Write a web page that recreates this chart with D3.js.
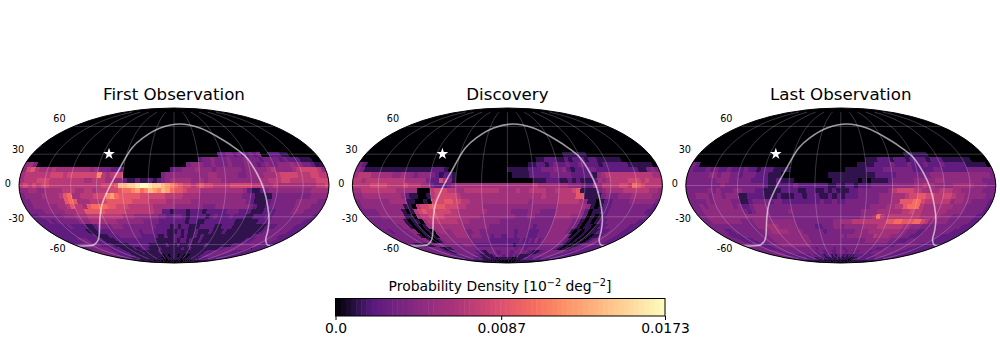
<!DOCTYPE html>
<html>
<head>
<meta charset="utf-8">
<script src="https://cdnjs.cloudflare.com/ajax/libs/d3/7.8.5/d3.min.js"></script>
<style>
html, body { margin: 0; padding: 0; background: #fff; }
svg { display: block; }
text { font-family: "DejaVu Sans", sans-serif; fill: #000; }
</style>
</head>
<body>
<div id="root"></div>
<script>
// density per cell: hex level 0-f of the colour bar, one
// string per latitude row, six groups of 12 cells (60 deg of longitude each)
var rowLats = [30, 25, 20, 15, 10, 5, 0, -5, -10, -15, -20, -25, -30, -35, -40, -45, -50, -55, -60, -65, -70, -75, -80, -85];

var firstObs = [
"000000000000 000000000000 000000000000 000000000002 233232232300 222110000000",
"000000000000 000000000000 000000000000 000000233433 343334333233 332322211100",
"453000000000 000000000000 000000000000 000344433433 343334432343 344454433211",
"478655565555 555545333222 000000000002 334445444344 444434444456 444456777764",
"566666677767 777777a65677 000000000344 444444445544 444334444555 677776667766",
"566677766666 666556665544 211211212345 555544545554 444444445566 677666666777",
"676767766666 66666667778c cddeffeddcba 987767877666 677777666556 555555555667",
"445544555566 655665666778 99ab9acbacb9 887666555555 555542112344 444444445555",
"344445555689 55666777ab98 888877777766 665555444444 444433211113 333333334444",
"334444555589 855566678888 887777666655 555544444444 444443211123 333334444433",
"334444445568 665899998877 766666655555 444444433344 444444321123 333334444333",
"333344444555 668888877777 666666655221 222122212222 233322211122 233334443333",
"223333334445 556666666665 554444443322 332122221232 223222112223 233333333332",
"222323333334 445555555444 444433332222 222122112222 222211111122 233333333322",
"222222232222 112333344433 333333322221 212211122221 122211111111 122233333222",
"222222222221 112222333333 332333222211 121211211121 112111111111 123333333222",
"222222222222 111122233333 332222211211 221211212111 111111111111 233333332222",
"222223332222 211112222222 222222111111 212212112111 111111111112 223333333222",
"222333333222 221111112222 222111111211 121112111112 111111111223 333333322222",
"223333333322 222111112112 221111211111 111211211111 111111223333 333332222222",
"333333333222 222111111211 111112111111 111111111111 112222333333 332222222222",
"333333222222 221111111111 111111011011 110110101111 112223333333 222222222222",
"222222221111 111111111111 111101011111 111110101111 111212222222 222222222222",
"111111111111 111100101010 010100100101 010010100101 010101111111 111111111111"
];

var discovery = [
"000000000000 000000000000 000000000000 000000000000 001111110000 000000000000",
"000000000000 000000000000 000000000000 000000011222 112122212211 111100000000",
"320000000000 000000000000 000000000000 000001122123 223223322212 222221111110",
"431111111111 111111222100 000000000000 111112223334 342122233222 222222211343",
"566655555445 443444321221 000000000000 011112222233 333222221456 666666666655",
"665666666666 555553227531 000000000000 000000111222 112121112545 666677767666",
"666677776666 766655322234 555555555555 555555655555 554443225466 667769876666",
"556666666655 555000677766 556666666655 556556666556 666781111345 555666666554",
"445555555554 211001677777 655555555555 555555556555 666688111134 334445555544",
"344444445555 110010777887 766555555555 555554555555 666665411012 233334444443",
"344444444441 106778888777 665555444444 444444444444 555555541012 233333333332",
"333344444410 167877777766 555555544444 433334443333 555555420112 233333333322",
"333344444411 056677776666 555554444444 443334433333 555544420101 233333333332",
"333333444101 105666666665 554444444433 333333333333 444443310101 223333333322",
"333333344101 015555555555 444444433333 333333323333 444443310110 122333333222",
"332333334401 010455445555 334433333333 332333222333 444443101010 112223333222",
"333333334101 010444445555 344433323322 332333222333 444444301010 101123333222",
"333333334410 013444444444 333333222222 222232232423 444444321010 101233333222",
"332111111333 333333334443 222222222222 221222222222 333333321010 112333322222",
"333333333210 113333333333 333333333333 333233323333 333333321011 123332222222",
"333333332211 233333333322 211333322333 322333333221 112233333333 333222222222",
"333333222222 333333322211 111122333223 322322111111 223333333333 322222222222",
"222222222222 222221111111 111110111111 111010111112 222222222222 222222222222",
"111111111111 111101010101 010010100100 010010100101 011111111111 111111111111"
];

var lastObs = [
"000000000000 000000000000 000000000000 000000000000 000011111100 000000000000",
"000000000000 000000000000 000000000000 000000111222 122212222122 211111110000",
"320000000000 000000000000 000000000000 000011112222 322232223222 322222111110",
"322232322322 232212221111 000000000000 011111222233 333332222233 222222333333",
"333334434433 233322211100 000000000111 111111112222 233333333444 444444444443",
"333333344433 333222211211 100000000011 111101011112 333334444455 444444444333",
"333333334333 333333211222 232222222112 122122233333 444445565544 445555544433",
"333334343334 433322111122 221122112121 112233333334 677776655556 665544444333",
"334443443444 112222111211 122122211212 122233333444 555677887766 776554444433",
"333343444433 112333323322 222222232232 233333333444 558889976666 664554433332",
"334344444434 223444333333 333333333333 333333344445 566899965555 555444333332",
"334444444444 323444333334 333333333333 333334444555 555667665555 554444333332",
"334444444444 444444333333 333333333333 333334445965 666666665555 544433333322",
"334444444433 344444444444 333333333344 555666666666 889988899764 444433333322",
"333333333333 344455544444 333332233344 344444555566 666665544433 333333333222",
"333223333333 334455555444 433333323333 333344445555 555554433322 333333332222",
"332222333333 334444444444 443333333333 434444444465 555444433222 333333222222",
"333222223333 334444444444 443333333333 333333334444 444433322233 333333222222",
"333323222233 334444444444 433333333333 333333333333 333332223333 333322222222",
"333333222233 333333333333 332333333233 323333333333 332223333333 333222222222",
"333333333233 333333333333 323322332233 332332323333 223333333333 332222222222",
"333333332222 222222223322 222122212122 212121122222 222222333333 332222222222",
"222222222222 222222211221 121111111211 111111011122 222222222222 222222222222",
"111111111111 111111110101 010110100101 010010101011 101111111111 111111111111"
];

var panelTitles = ["First Observation", "Discovery", "Last Observation"];
var panelRows = [firstObs, discovery, lastObs];

var gridLats = [-60, -30, 0, 30, 60];
var gridLons = [-150, -120, -90, -60, -30, 0, 30, 60, 90, 120, 150];

var curveLon = [-179, -160, -144, -123, -94.7, -86.4, -75.5, -65.3, -55.8, -45.6, -24, 11.5, 45, 70.3, 81, 90.6, 97.3, 103.7, 113, 123, 135, 149, 168, 178];
var curveLat = [-61.8, -61.5, -60.2, -54.2, -31.2, -18.2, -2.3, 14.9, 36.2, 46.8, 58, 63, 58, 44.6, 36.2, 26.3, 11.8, -2, -19.7, -32.9, -45, -54.2, -60.2, -61.5];

var starLon = -82.6;
var starLat = 30.2;

var densityMax = 0.0173;
var colorbarTicks = [0, 0.0087, 0.0173];
var colorbarLabels = ["0.0", "0.0087", "0.0173"];

var colorStops = [0, 0.06, 0.115, 0.25, 0.37, 0.5, 0.6, 0.7, 0.85, 1];
var colorValues = ["#000004", "#2a1145", "#5b1a80", "#8a2a80", "#ad3479", "#dc4f70", "#f56b5f", "#fd9468", "#fec98e", "#fdfdbf"];

var width = 1000;
var height = 350;
var panelCenters = [174, 507.4, 840.8];
var centerY = 185.5;
var halfWidth = 155;
var cellSize = 5;
var lonCap = 80;
var labelStretch = 1.1;

function mollweideRaw(lambda, phi) {
    var target = Math.PI * Math.sin(phi);
    var theta = phi;
    if (Math.abs(Math.abs(phi) - Math.PI / 2) >= 1e-6) {
        for (var i = 0; i < 50; i++) {
            var delta = (2 * theta + Math.sin(2 * theta) - target) / (2 + 2 * Math.cos(2 * theta));
            theta -= delta;
            if (Math.abs(delta) < 1e-9) break;
        }
    }
    return [2 * Math.SQRT2 / Math.PI * lambda * Math.cos(theta), Math.SQRT2 * Math.sin(theta)];
}

// colour bar of the picture, close to magma but climbing faster at the low end
var densityColor = d3.scaleLinear()
    .domain(colorStops.map(function(t) { return t * densityMax; }))
    .range(colorValues)
    .interpolate(d3.interpolateRgb);
function levelToDensity(ch) { return parseInt(ch, 16) / 15 * densityMax; }

var svg = d3.select("#root").append("svg")
    .attr("width", width)
    .attr("height", height);

var polygon = d3.line();
var curveLine = d3.line().curve(d3.curveCatmullRom.alpha(0.5));

panelRows.forEach(function(rows, p) {
    var cx = panelCenters[p];
    var projection = d3.geoProjection(mollweideRaw)
        .scale(halfWidth / (2 * Math.SQRT2))
        .translate([cx, centerY])
        .precision(0.2);
    var path = d3.geoPath(projection);
    var g = svg.append("g").attr("class", "panel");

    var clipId = "sphere-" + p;
    g.append("clipPath").attr("id", clipId)
        .append("path").datum({type: "Sphere"}).attr("d", path);

    // zero density background of the map
    g.append("path").datum({type: "Sphere"})
        .attr("d", path)
        .attr("fill", densityColor(0));

    var cells = [];
    rows.forEach(function(row, r) {
        row.replace(/ /g, "").split("").forEach(function(ch, c) {
            if (ch === "0") return;
            cells.push({
                lat: rowLats[r],
                lon: -180 + c * cellSize,
                value: levelToDensity(ch)
            });
        });
    });

    g.append("g").attr("clip-path", "url(#" + clipId + ")")
        .attr("shape-rendering", "crispEdges")
        .selectAll("path")
        .data(cells)
        .enter().append("path")
        .attr("d", function(d) {
            var top = d.lat + cellSize / 2;
            var bottom = d.lat === rowLats[rowLats.length - 1] ? -90 : d.lat - cellSize / 2;
            var left = d.lon;
            var right = d.lon + cellSize;
            return polygon([
                projection([left, top]), projection([right, top]),
                projection([right, bottom]), projection([left, bottom])
            ]) + "Z";
        })
        .attr("fill", function(d) { return densityColor(d.value); });

    // graticule
    var grid = g.append("g").attr("fill", "none")
        .attr("stroke", "#fff")
        .attr("stroke-opacity", 0.28)
        .attr("stroke-width", 0.8);
    gridLats.forEach(function(lat) {
        grid.append("path").attr("d", d3.line()(d3.range(-180, 181, 2).map(function(lon) {
            return projection([lon, lat]);
        })));
    });
    gridLons.forEach(function(lon) {
        grid.append("path").attr("d", d3.line()(d3.range(-lonCap, lonCap + 1, 2).map(function(lat) {
            return projection([lon, lat]);
        })));
    });

    // white curve
    g.append("path")
        .attr("d", curveLine(curveLon.map(function(lon, i) { return projection([lon, curveLat[i]]); })))
        .attr("fill", "none")
        .attr("stroke", "#fff")
        .attr("stroke-opacity", 0.6)
        .attr("stroke-width", 1.6);

    // star
    var star = projection([starLon, starLat]);
    g.append("path")
        .attr("d", d3.symbol().type(d3.symbolStar).size(42)())
        .attr("transform", "translate(" + star[0] + "," + star[1] + ")")
        .attr("fill", "#fff");

    // outline
    g.append("path").datum({type: "Sphere"})
        .attr("d", path)
        .attr("fill", "none")
        .attr("stroke", "#000")
        .attr("stroke-width", 1);

    // latitude labels sit on a slightly stretched y, as in the picture
    gridLats.forEach(function(lat) {
        var pos = projection([-180, lat]);
        g.append("text")
            .attr("x", pos[0] - 8)
            .attr("y", centerY - 1.5 + labelStretch * (pos[1] - centerY))
            .attr("dy", "0.36em")
            .attr("text-anchor", "end")
            .style("font-size", "9.7px")
            .text(lat);
    });

    g.append("text")
        .attr("x", cx)
        .attr("y", 99.5)
        .attr("text-anchor", "middle")
        .style("font-size", "16.67px")
        .text(panelTitles[p]);
});

// colour bar
var barX = d3.scaleLinear().domain([0, densityMax]).range([335.5, 665]);
var barTop = 298.5;
var barHeight = 17.5;
var bar = svg.append("g");
var barSteps = d3.range(0, 64);
bar.selectAll("rect")
    .data(barSteps)
    .enter().append("rect")
    .attr("x", function(d) { return barX(d / 64 * densityMax); })
    .attr("y", barTop)
    .attr("width", barX(densityMax / 64) - barX(0) + 0.5)
    .attr("height", barHeight)
    .attr("fill", function(d) { return densityColor((d + 0.5) / 64 * densityMax); });
bar.append("rect")
    .attr("x", barX(0))
    .attr("y", barTop)
    .attr("width", barX(densityMax) - barX(0))
    .attr("height", barHeight)
    .attr("fill", "none")
    .attr("stroke", "#000")
    .attr("stroke-width", 1);

var axis = d3.axisBottom(barX)
    .tickValues(colorbarTicks)
    .tickFormat(function(d, i) { return colorbarLabels[i]; })
    .tickSize(4)
    .tickPadding(3);
var axisG = bar.append("g")
    .attr("transform", "translate(0," + (barTop + barHeight) + ")")
    .call(axis);
axisG.select(".domain").remove();
axisG.selectAll("text").style("font-size", "13.9px").style("font-family", '"DejaVu Sans", sans-serif');

var barLabel = bar.append("text")
    .attr("x", 500)
    .attr("y", 291)
    .attr("text-anchor", "middle")
    .style("font-size", "13.9px");
barLabel.append("tspan").text("Probability Density [10");
barLabel.append("tspan").attr("dy", -5).style("font-size", "9.7px").text("\u22122");
barLabel.append("tspan").attr("dy", 5).text(" deg");
barLabel.append("tspan").attr("dy", -5).style("font-size", "9.7px").text("\u22122");
barLabel.append("tspan").attr("dy", 5).text("]");
</script>
</body>
</html>
